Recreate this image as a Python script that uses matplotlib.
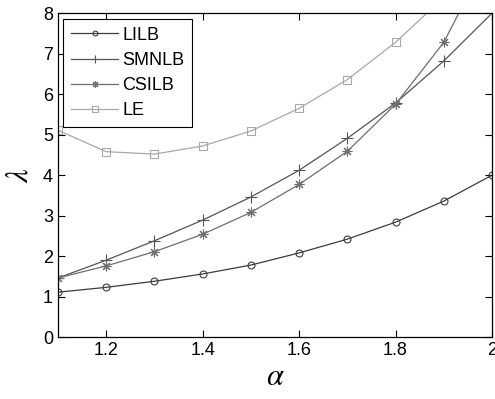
import numpy as np
import matplotlib
matplotlib.use("Agg")
from matplotlib import pyplot as plt

alpha = [1.1, 1.2, 1.3, 1.4, 1.5, 1.6, 1.7, 1.8, 1.9, 2.0]
lilb = [1.11, 1.23, 1.38, 1.56, 1.78, 2.08, 2.42, 2.84, 3.36, 4.0]
smnlb = [1.46, 1.90, 2.38, 2.89, 3.46, 4.12, 4.91, 5.78, 6.82, 8.0]
csilb = [1.46, 1.76, 2.11, 2.54, 3.08, 3.77, 4.59, 5.75, 7.28, 9.6]
le = [5.11, 4.58, 4.52, 4.72, 5.09, 5.65, 6.36, 7.28, 8.39, 9.7]

plt.rcParams['font.family'] = ['Liberation Sans', 'DejaVu Sans']
plt.rcParams['mathtext.fontset'] = 'stix'

fig = plt.figure(figsize=(4.95, 3.99), dpi=100)
ax = fig.add_axes([0.117, 0.155, 0.877, 0.812])

lw = 0.9
ax.plot(alpha, lilb, color='#3c3c3c', lw=lw, marker='o', ms=5,
        mfc='none', mew=0.8, label='LILB')
ax.plot(alpha, smnlb, color='#555555', lw=lw, marker='+', ms=8,
        mew=0.8, label='SMNLB')
ax.plot(alpha, csilb, color='#6e6e6e', lw=lw, marker=(8, 2, 0), ms=7,
        mew=0.8, label='CSILB')
ax.plot(alpha, le, color='#a8a8a8', lw=lw, marker='s', ms=6,
        mfc='none', mew=0.8, label='LE')

ax.set_xlim(1.1, 2.0)
ax.set_ylim(0, 8)
ax.set_xticks([1.2, 1.4, 1.6, 1.8, 2.0])
ax.set_xticklabels(['1.2', '1.4', '1.6', '1.8', '2'])
ax.set_yticks(range(9))
ax.tick_params(direction='in', top=True, right=True, labelsize=13,
               length=5, width=0.8)
for s in ax.spines.values():
    s.set_linewidth(0.9)

ax.set_xlabel(r'$\alpha$', fontsize=22, labelpad=2)
ax.set_ylabel(r'$\lambda$', fontsize=22, labelpad=6)

leg = ax.legend(loc='upper left', fontsize=13, fancybox=False,
                edgecolor='black', framealpha=1, borderaxespad=0.3,
                handlelength=2.6, handletextpad=0.2, labelspacing=0.45,
                markerscale=0.7, borderpad=0.45)
leg.get_frame().set_linewidth(0.8)

plt.savefig("out.png", dpi=100)
